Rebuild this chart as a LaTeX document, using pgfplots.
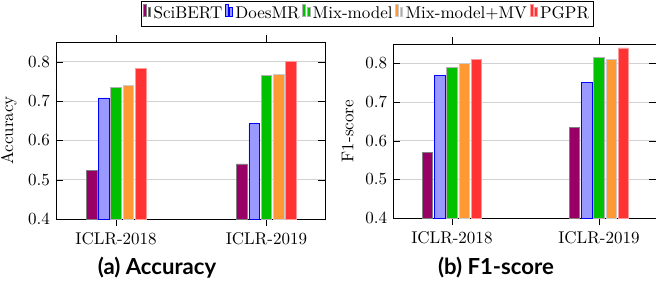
\documentclass[border=0pt]{standalone}
\usepackage{pgfplots}
\pgfplotsset{compat=1.18}
\usepackage{fontspec}
\newfontfamily\capfont{Lato}
\definecolor{cSci}{HTML}{990066}
\definecolor{cDoes}{HTML}{9999FF}
\definecolor{cMix}{HTML}{00C000}
\definecolor{cMV}{HTML}{FF9933}
\definecolor{cPG}{HTML}{FF3333}
\pgfplotsset{
  mybar/.style={
    ybar=1.0pt, bar width=6.2pt,
    ymin=0.4, ymax=0.85,
    ytick={0.4,0.5,0.6,0.7,0.8},
    yticklabel style={/pgf/number format/fixed,/pgf/number format/precision=1},
    xtick={0,1}, xticklabels={ICLR-2018,ICLR-2019},
    xmin=-0.4, xmax=1.39,
    ymajorgrids, grid style={gray!35},
    scale only axis,
    tick style={black},
  }
}
\begin{document}
\begin{tikzpicture}
\useasboundingbox (0,0) rectangle (385.7pt,-167.6pt);
\begin{axis}[mybar, width=158.2pt, height=104.1pt,
  at={(32.9pt,-128.8pt)}, anchor=south west,
  ylabel={Accuracy},
  legend columns=-1,
  legend image code/.code={%
    \draw[#1,/tikz/.cd,yshift=-0.15em,line width=0.25pt] (0pt,0pt) rectangle (1.7pt,0.7em);
    \draw[#1,/tikz/.cd,yshift=-0.15em,line width=0.25pt] (2.5pt,0pt) rectangle (4.2pt,0.55em);},
  legend style={at={(1.158,1.158)}, anchor=center, draw=black, font=\normalsize,
    nodes={inner xsep=1.6pt},
    /tikz/every even column/.append style={column sep=0pt}, inner sep=1pt},
  ]
\addplot[fill=cSci, draw=gray] coordinates {(0,0.523) (1,0.540)};
\addplot[fill=cDoes, draw=blue] coordinates {(0,0.708) (1,0.643)};
\addplot[fill=cMix, draw=gray!60] coordinates {(0,0.735) (1,0.766)};
\addplot[fill=cMV, draw=gray!40] coordinates {(0,0.740) (1,0.768)};
\addplot[fill=cPG, draw=red!40] coordinates {(0,0.782) (1,0.800)};
\legend{SciBERT,DoesMR,Mix-model,Mix-model+MV,PGPR}
\end{axis}
\begin{axis}[mybar, width=154.6pt, height=102.3pt,
  at={(231.1pt,-128.2pt)}, anchor=south west,
  ylabel={F1-score}, xmax=1.388,
  ]
\addplot[fill=cSci, draw=gray] coordinates {(0,0.570) (1,0.635)};
\addplot[fill=cDoes, draw=blue] coordinates {(0,0.768) (1,0.750)};
\addplot[fill=cMix, draw=gray!60] coordinates {(0,0.790) (1,0.815)};
\addplot[fill=cMV, draw=gray!40] coordinates {(0,0.800) (1,0.810)};
\addplot[fill=cPG, draw=red!40] coordinates {(0,0.810) (1,0.840)};
\end{axis}
\node[font=\capfont\bfseries\fontsize{13}{15}\selectfont] at (92.3pt,-157.6pt) {(a) Accuracy};
\node[font=\capfont\bfseries\fontsize{13}{15}\selectfont] at (291.6pt,-157.6pt) {(b) F1-score};
\end{tikzpicture}
\end{document}
